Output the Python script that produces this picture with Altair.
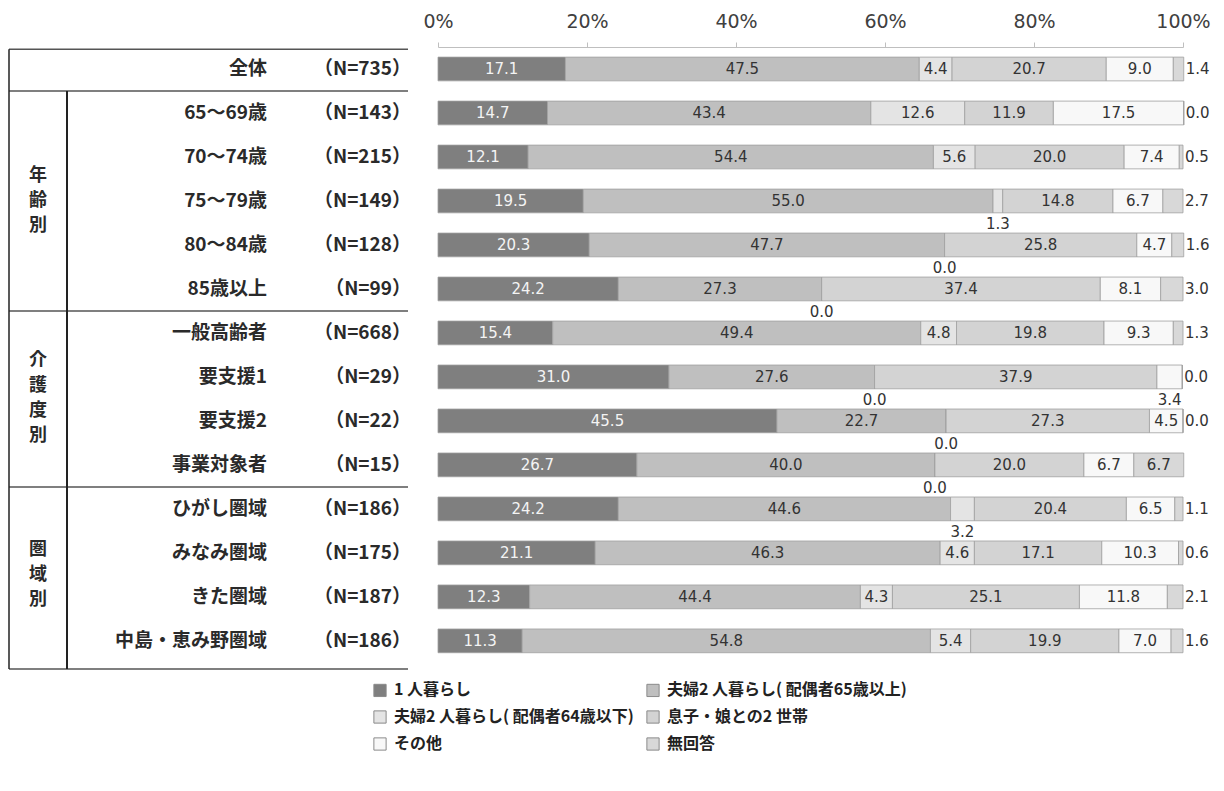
import altair as alt
import pandas as pd

rows = ["全体", "65〜69歳", "70〜74歳", "75〜79歳", "80〜84歳", "85歳以上",
        "一般高齢者", "要支援1", "要支援2", "事業対象者",
        "ひがし圏域", "みなみ圏域", "きた圏域", "中島・恵み野圏域"]
ns = ["（N=735）", "（N=143）", "（N=215）", "（N=149）", "（N=128）", "（N=99）",
      "（N=668）", "（N=29）", "（N=22）", "（N=15）",
      "（N=186）", "（N=175）", "（N=187）", "（N=186）"]
categories = ["1 人暮らし", "夫婦2 人暮らし( 配偶者65歳以上)", "夫婦2 人暮らし( 配偶者64歳以下)",
              "息子・娘との2 世帯", "その他", "無回答"]
single = [17.1, 14.7, 12.1, 19.5, 20.3, 24.2, 15.4, 31.0, 45.5, 26.7, 24.2, 21.1, 12.3, 11.3]
couple65 = [47.5, 43.4, 54.4, 55.0, 47.7, 27.3, 49.4, 27.6, 22.7, 40.0, 44.6, 46.3, 44.4, 54.8]
couple64 = [4.4, 12.6, 5.6, 1.3, 0.0, 0.0, 4.8, 0.0, 0.0, 0.0, 3.2, 4.6, 4.3, 5.4]
children = [20.7, 11.9, 20.0, 14.8, 25.8, 37.4, 19.8, 37.9, 27.3, 20.0, 20.4, 17.1, 25.1, 19.9]
other = [9.0, 17.5, 7.4, 6.7, 4.7, 8.1, 9.3, 3.4, 4.5, 6.7, 6.5, 10.3, 11.8, 7.0]
noans = [1.4, 0.0, 0.5, 2.7, 1.6, 3.0, 1.3, 0.0, 0.0, 6.7, 1.1, 0.6, 2.1, 1.6]
group_names = ["年齢別", "介護度別", "圏域別"]
group_first = [1, 6, 10]
group_last = [5, 9, 13]
colors = ["#7f7f7f", "#bfbfbf", "#e4e4e4", "#d3d3d3", "#f8f8f8", "#d8d8d8"]

ROW_PX = 44.0
series = [single, couple65, couple64, children, other, noans]
recs = []
for i, r in enumerate(rows):
    for k, c in enumerate(categories):
        recs.append({"row": r, "idx": i, "k": k, "cat": c, "value": series[k][i]})
df = pd.DataFrame(recs)

table_df = pd.DataFrame({"row": rows, "n": ns, "idx": list(range(len(rows)))})

# vertical group labels: one character per line, stacked around the group's centre
char_step = 25.0 / ROW_PX
grecs = []
for g, a, b in zip(group_names, group_first, group_last):
    centre = (a + b) / 2
    nch = len(g)
    for j, ch in enumerate(g):
        grecs.append({"ch": ch, "y": centre + (j - (nch - 1) / 2) * char_step})
grp_df = pd.DataFrame(grecs)

n_last = len(rows) - 1
top_y = -0.45
bot_y = n_last + 0.64
hlines = pd.DataFrame({"y": [top_y, 0.5] + [b + 0.5 for b in group_last[:-1]] + [bot_y]})
vline_grp = pd.DataFrame({"y1": [0.5], "y2": [bot_y]})
vline_left = pd.DataFrame({"y1": [top_y], "y2": [bot_y]})

JP = "Noto Sans CJK JP"
NUM = "DejaVu Sans"

xscale = alt.Scale(domain=[0, 100], nice=False, zero=False)
yscale = alt.Scale(domain=[-0.5, bot_y], reverse=True, nice=False, zero=False)
xaxis = alt.Axis(orient="top", values=[0, 20, 40, 60, 80, 100], labelExpr="datum.value + '%'",
                 title=None, grid=False, domainColor="#bfbfbf", tickColor="#bfbfbf",
                 tickSize=5, labelPadding=11, labelFontSize=19, labelFont=NUM,
                 labelColor="#404040", labelFlush=False)

base = (alt.Chart(df)
        .transform_window(cum="sum(value)", groupby=["row"], sort=[alt.SortField("k")], frame=[None, 0])
        .transform_calculate(x0="datum.cum - datum.value",
                             xm="datum.cum - datum.value / 2",
                             yt="datum.idx - 0.27",
                             yb="datum.idx + 0.27",
                             ly="datum.idx + 0.53",
                             lab="format(datum.value, '.1f')",
                             pos="datum.k == 5 ? (datum.value >= 5 ? 'in' : 'right') : ((datum.k >= 2 && datum.value < 4) ? 'below' : 'in')"))

bars = base.mark_rect(stroke="#a0a0a0", strokeWidth=0.8).encode(
    x=alt.X("x0:Q", scale=xscale, axis=xaxis),
    x2="cum:Q",
    y=alt.Y("yt:Q", scale=yscale, axis=None),
    y2="yb:Q",
    color=alt.Color("cat:N", scale=alt.Scale(domain=categories, range=colors),
                    legend=alt.Legend(title=None, orient="none", legendX=-66, legendY=635,
                                      columns=2, direction="horizontal",
                                      columnPadding=10, rowPadding=9,
                                      symbolType="square", symbolSize=150,
                                      symbolStrokeColor="#8a8a8a", symbolStrokeWidth=1,
                                      labelFont=JP, labelFontSize=16, labelFontWeight="bold",
                                      labelColor="#222222", labelLimit=400, labelOffset=6)),
)

txt_kw = dict(font=NUM, fontSize=15, baseline="middle")
in_white = base.transform_filter("datum.k == 0").mark_text(color="#f4f4f4", **txt_kw).encode(
    x=alt.X("xm:Q", scale=xscale, axis=xaxis), y=alt.Y("idx:Q", scale=yscale, axis=None), text="lab:N")
in_dark = base.transform_filter("datum.k > 0 && datum.pos == 'in'").mark_text(color="#333333", **txt_kw).encode(
    x=alt.X("xm:Q", scale=xscale, axis=xaxis), y=alt.Y("idx:Q", scale=yscale, axis=None), text="lab:N")
below = base.transform_filter("datum.pos == 'below'").mark_text(color="#333333", **txt_kw).encode(
    x=alt.X("xm:Q", scale=xscale, axis=xaxis), y=alt.Y("ly:Q", scale=yscale, axis=None), text="lab:N")
right = base.transform_filter("datum.pos == 'right'").mark_text(color="#333333", align="left", dx=2, **txt_kw).encode(
    x=alt.X("cum:Q", scale=xscale, axis=xaxis), y=alt.Y("idx:Q", scale=yscale, axis=None), text="lab:N")

tbl_kw = dict(font=JP, fontSize=19, fontWeight="bold", baseline="middle", color="#2a2a2a")
row_lab = alt.Chart(table_df).mark_text(align="right", **tbl_kw).encode(
    x=alt.value(-171), y=alt.Y("idx:Q", scale=yscale, axis=None), text="row:N")
n_lab = alt.Chart(table_df).mark_text(align="right", **tbl_kw).encode(
    x=alt.value(-27), y=alt.Y("idx:Q", scale=yscale, axis=None), text="n:N")
grp_lab = alt.Chart(grp_df).mark_text(align="center", font=JP, fontSize=18, fontWeight="bold",
                                       baseline="middle", color="#2a2a2a").encode(
    x=alt.value(-400), y=alt.Y("y:Q", scale=yscale, axis=None), text="ch:N")

hl = alt.Chart(hlines).mark_rule(color="#555555", strokeWidth=1.5).encode(
    x=alt.value(-429), x2=alt.value(-30), y=alt.Y("y:Q", scale=yscale, axis=None))
vg = alt.Chart(vline_grp).mark_rule(color="#222222", strokeWidth=2).encode(
    x=alt.value(-371), y=alt.Y("y1:Q", scale=yscale, axis=None), y2="y2:Q")
vl = alt.Chart(vline_left).mark_rule(color="#222222", strokeWidth=1.5).encode(
    x=alt.value(-429), y=alt.Y("y1:Q", scale=yscale, axis=None), y2="y2:Q")

chart = (alt.layer(bars, in_white, in_dark, below, right, row_lab, n_lab, grp_lab, hl, vg, vl)
         .properties(width=745, height=int(round((bot_y + 0.5) * ROW_PX)),
                     padding={"top": 4, "left": 0, "right": 0, "bottom": 0})
         .configure_view(stroke=None))

chart.save("out.html", embed_options={"renderer": "svg", "actions": False})
